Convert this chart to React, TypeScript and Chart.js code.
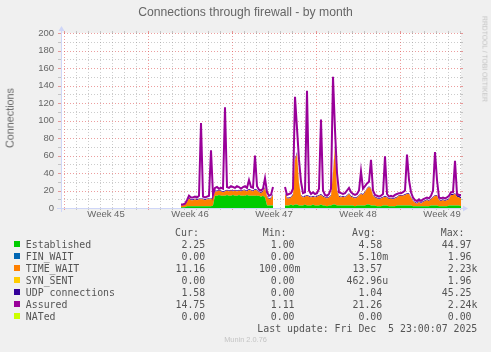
import React, { useEffect, useRef } from "react";
import { Chart, registerables } from "chart.js";

Chart.register(...registerables);

// time in hours since the start of Week 45
const times = [
  234, 238, 242, 246, 250, 254, 258, 262, 266, 270,
  274, 278, 282, 286, 290, 294, 298, 302, 306, 310,
  314, 318, 322, 326, 330, 334, 338, 342, 346, 350,
  354, 358, 362, 366, 370, 374, 378, 382, 386, 390,
  394, 398, 402, 406, 410, 414, 418, 422, 426, 430,
  434, 438, 442, 446, 450, 454, 458, 462, 466, 470,
  474, 478, 482, 486, 490, 494, 498, 502, 506, 510,
  514, 518, 522, 526, 530, 534, 538, 542, 546, 550,
  554, 558, 562, 566, 570, 574, 578, 582, 586, 590,
  594, 598, 602, 606, 610, 614, 618, 622, 626, 630,
  634, 638, 642, 646, 650, 654, 658, 662, 666, 670,
  674, 678, 682, 686, 690, 694, 698, 702, 706, 710,
  714, 718, 722, 726, 730, 734, 738, 742, 746, 750,
  754, 758, 762, 766, 770, 774, 778, 782, 786, 790,
  794,
];

const established = [
  1, 1, 1, 2, 2, 2, 2, 2, 2, 2,
  2, 2, 2, 2, 2, 2, 3, 14, 14, 15,
  14, 14, 14, 15, 14, 14, 15, 14, 14, 15,
  14, 14, 14, 15, 14, 14, 14, 14, 14, 14,
  13, 14, 12, 3, 3, 3, 3, null, null, null,
  null, null, 3, 3, 3, 4, 3, 4, 4, 3,
  3, 3, 4, 3, 3, 3, 4, 3, 3, 3,
  4, 3, 3, 2, 3, 3, 4, 4, 3, 3,
  3, 3, 3, 3, 3, 3, 3, 2, 3, 3,
  3, 3, 3, 4, 4, 3, 3, 3, 2, 2,
  2, 3, 3, 3, 2, 2, 2, 2, 3, 3,
  3, 3, 3, 3, 3, 3, 2, 2, 2, 2,
  2, 2, 2, 2, 2, 3, 3, 3, 3, 2,
  2, 2, 2, 2, 3, 3, 3, 3, 3, 3,
  2,
];

const timeWait = [
  2, 2, 3, 5, 9, 7, 7, 8, 7, 8,
  8, 8, 7, 8, 8, 8, 9, 5, 5, 5,
  5, 4, 5, 5, 5, 6, 4, 6, 5, 5,
  5, 6, 6, 4, 7, 6, 5, 7, 6, 4,
  4, 5, 11, 10, 7, 8, 12, null, null, null,
  null, null, 13, 8, 8, 8, 12, 51, 58, 25,
  11, 9, 9, 11, 10, 9, 9, 9, 10, 11,
  11, 10, 9, 9, 9, 11, 36, 66, 17, 10,
  9, 10, 9, 11, 13, 10, 9, 9, 9, 11,
  13, 12, 15, 18, 20, 19, 11, 9, 9, 8,
  9, 9, 10, 9, 8, 9, 8, 9, 9, 11,
  11, 11, 12, 13, 13, 9, 6, 4, 3, 5,
  3, 5, 6, 7, 6, 7, 9, 11, 11, 7,
  6, 7, 6, 7, 7, 12, 12, 13, 10, 9,
  9,
];

const udp = [
  1, 1, 1, 1, 1, 1, 1, 1, 1, 1,
  1, 1, 1, 1, 1, 1, 1, 1, 1, 1,
  1, 1, 1, 1, 1, 1, 1, 1, 1, 1,
  1, 1, 1, 1, 1, 1, 1, 1, 1, 1,
  1, 1, 1, 1, 1, 1, 1, null, null, null,
  null, null, 1, 1, 1, 1, 1, 2, 2, 1,
  1, 1, 1, 1, 1, 1, 1, 1, 1, 1,
  1, 1, 1, 1, 1, 1, 2, 2, 1, 1,
  1, 1, 1, 1, 1, 1, 1, 1, 1, 1,
  1, 1, 1, 1, 1, 1, 1, 1, 1, 1,
  1, 1, 1, 1, 1, 1, 1, 1, 1, 1,
  1, 1, 1, 1, 1, 1, 1, 1, 1, 1,
  1, 1, 1, 1, 1, 1, 1, 1, 1, 1,
  1, 1, 1, 1, 1, 1, 1, 1, 2, 2,
  1.5,
];

const assured = [
  4, 4, 5, 9, 14, 12, 12, 13, 12, 14,
  97, 13, 12, 13, 14, 66, 15, 23, 24, 22,
  23, 22, 115, 24, 23, 25, 24, 23, 25, 24,
  22, 24, 25, 23, 32, 24, 23, 60, 25, 21,
  20, 22, 34, 18, 14, 15, 24, null, null, null,
  null, null, 24, 15, 16, 17, 22, 127, 91, 55,
  30, 17, 18, 134, 20, 16, 18, 16, 17, 22,
  101, 20, 15, 14, 16, 22, 150, 89, 40, 18,
  17, 16, 17, 20, 23, 18, 16, 15, 16, 20,
  42, 22, 25, 28, 30, 55, 20, 15, 14, 13,
  14, 16, 59, 16, 13, 14, 13, 15, 16, 17,
  17, 18, 20, 61, 32, 18, 12, 9, 8, 10,
  8, 10, 11, 12, 11, 14, 20, 64, 32, 12,
  11, 12, 11, 12, 14, 18, 18, 54, 16, 15,
  15,
];

const weekLabels = ["Week 45", "Week 46", "Week 47", "Week 48", "Week 49"];
const weekCenters = [84, 252, 420, 588, 756];

const seriesNames = ["Established", "FIN_WAIT", "TIME_WAIT", "SYN_SENT", "UDP connections", "Assured", "NATed"];
const seriesColors = ["#00CC00", "#0066B3", "#FF8000", "#FFCC00", "#330099", "#990099", "#CCFF00"];
const curValues = ["2.25", "0.00", "11.16", "0.00", "1.58", "14.75", "0.00"];
const minValues = ["1.00", "0.00", "100.00m", "0.00", "0.00", "1.11", "0.00"];
const avgValues = ["4.58", "5.10m", "13.57", "462.96u", "1.04", "21.26", "0.00"];
const maxValues = ["44.97", "1.96", "2.23k", "1.96", "45.25", "2.24k", "0.00"];

const W = 491;
const H = 352;
const GRID = "rgba(143,143,143,0.45)";
const MGRID = "rgba(222,79,79,0.55)";
const AXIS = "#CFD6F8";
const FONT = "#666666";

const muninPlugin = {
  id: "muninGrid",
  beforeDatasetsDraw(chart: any) {
    const { ctx, chartArea: a } = chart;
    const xs = chart.scales.x;
    const ys = chart.scales.y;
    ctx.save();
    ctx.fillStyle = "#FFFFFF";
    ctx.fillRect(a.left, a.top, a.right - a.left, a.bottom - a.top);
    ctx.lineWidth = 1;
    const seg = (x1: number, y1: number, x2: number, y2: number, color: string, dash: number[]) => {
      ctx.strokeStyle = color;
      ctx.setLineDash(dash);
      ctx.beginPath();
      ctx.moveTo(x1, y1);
      ctx.lineTo(x2, y2);
      ctx.stroke();
    };
    // horizontal lines (minor every 10, major every 20)
    for (let v = 10; v <= ys.max; v += 10) {
      const major = v % 20 === 0;
      const c = major ? MGRID : GRID;
      const py = Math.round(ys.getPixelForValue(v)) + 0.5;
      seg(a.left - 3, py, a.left, py, c, []);
      seg(a.right, py, a.right + 2, py, c, []);
      seg(a.left, py, a.right, py, c, [1, 2]);
    }
    // vertical lines (minor every day, major every week)
    for (let v = Math.ceil(xs.min / 24) * 24; v <= xs.max; v += 24) {
      const major = v % 168 === 0;
      const c = major ? MGRID : GRID;
      const px = Math.round(xs.getPixelForValue(v)) + 0.5;
      seg(px, a.bottom, px, a.bottom + 2, c, []);
      seg(px, a.top - 2, px, a.top, c, []);
      seg(px, a.top, px, a.bottom, c, [1, 2]);
    }
    ctx.restore();
  },
  afterDatasetsDraw(chart: any) {
    const { ctx, chartArea: a } = chart;
    ctx.save();
    ctx.strokeStyle = AXIS;
    ctx.fillStyle = AXIS;
    ctx.lineWidth = 1;
    const x0 = Math.round(a.left) + 0.5;
    const y0 = Math.round(a.bottom) + 0.5;
    ctx.beginPath();
    ctx.moveTo(a.left - 4, y0);
    ctx.lineTo(a.right + 4, y0);
    ctx.moveTo(x0, a.bottom + 4);
    ctx.lineTo(x0, a.top - 4);
    ctx.stroke();
    ctx.beginPath();
    ctx.moveTo(a.right + 2, y0 - 3);
    ctx.lineTo(a.right + 2, y0 + 3);
    ctx.lineTo(a.right + 7, y0);
    ctx.closePath();
    ctx.fill();
    ctx.beginPath();
    ctx.moveTo(x0 - 3, a.top - 2);
    ctx.lineTo(x0 + 3, a.top - 2);
    ctx.lineTo(x0, a.top - 7);
    ctx.closePath();
    ctx.fill();
    ctx.restore();
  },
};

const pts = (arr: (number | null)[]) => times.map((t, i) => ({ x: t, y: arr[i] }));

const mono = "'DejaVu Sans Mono', monospace";
const sans = "'Liberation Sans', Arial, sans-serif";

export default function App() {
  const ref = useRef<HTMLCanvasElement>(null);

  useEffect(() => {
    const canvas = ref.current;
    if (!canvas) return;
    const tickFont = { family: "Liberation Sans", size: 9.5 };
    const chart = new Chart(canvas, {
      type: "line",
      data: {
        datasets: [
          {
            label: "Established",
            data: pts(established),
            backgroundColor: seriesColors[0],
            borderColor: "transparent",
            borderWidth: 0,
            fill: "origin",
            pointRadius: 0,
            tension: 0,
            spanGaps: false,
            stack: "conn",
          },
          {
            label: "TIME_WAIT",
            data: pts(timeWait),
            backgroundColor: seriesColors[2],
            borderColor: "transparent",
            borderWidth: 0,
            fill: "-1",
            pointRadius: 0,
            tension: 0,
            spanGaps: false,
            stack: "conn",
          },
          {
            label: "UDP connections",
            data: pts(udp),
            backgroundColor: seriesColors[4],
            borderColor: "transparent",
            borderWidth: 0,
            fill: "-1",
            pointRadius: 0,
            tension: 0,
            spanGaps: false,
            stack: "conn",
          },
          {
            label: "Assured",
            data: pts(assured),
            borderColor: seriesColors[5],
            backgroundColor: seriesColors[5],
            borderWidth: 2,
            fill: false,
            pointRadius: 0,
            tension: 0,
            spanGaps: false,
            stack: "assured",
            order: -1,
          },
        ],
      } as any,
      options: {
        responsive: false,
        animation: false,
        devicePixelRatio: 1,
        events: [],
        layout: { padding: { left: 0, right: 30, top: 33, bottom: 0 } },
        plugins: {
          legend: { display: false },
          tooltip: { enabled: false },
          title: { display: false },
        },
        scales: {
          x: {
            type: "linear",
            min: -6,
            max: 794,
            grid: { display: false, drawTicks: false },
            border: { display: false },
            ticks: {
              autoSkip: false,
              maxRotation: 0,
              minRotation: 0,
              padding: 1,
              color: FONT,
              font: tickFont,
              callback: (v: any) => {
                const i = weekCenters.indexOf(Number(v));
                return i >= 0 ? weekLabels[i] : "";
              },
            },
            afterBuildTicks: (s: any) => {
              s.ticks = weekCenters.map((v) => ({ value: v }));
            },
            afterFit: (s: any) => {
              s.height = 144;
            },
          },
          y: {
            stacked: true,
            min: 0,
            max: 200,
            grid: { display: false, drawTicks: true, tickLength: 4 },
            border: { display: false },
            ticks: { stepSize: 20, padding: 3, color: FONT, font: tickFont },
            afterFit: (s: any) => {
              s.width = 61;
            },
          },
        },
      } as any,
      plugins: [muninPlugin],
    });
    return () => chart.destroy();
  }, []);

  const rowTop = 238.6;
  const rowH = 12;
  const colRight = [211.2, 300.5, 388.2, 477.5];
  const cols = [curValues, minValues, avgValues, maxValues];
  const headers = ["Cur:", "Min:", "Avg:", "Max:"];
  const headerLeft = [175.1, 262.7, 352, 440.7];
  const legendText: React.CSSProperties = {
    position: "absolute",
    fontFamily: mono,
    fontSize: "9.9px",
    lineHeight: "12px",
    color: "#555",
    whiteSpace: "pre",
  };
  const withUnit = (s: string) => (/[a-z]$/i.test(s) ? s : s + " ");

  return (
    <div
      style={{
        position: "fixed",
        left: 0,
        top: 0,
        width: W,
        height: H,
        background: "#F0F0F0",
        overflow: "hidden",
      }}
    >
      <canvas ref={ref} width={W} height={H} style={{ position: "absolute", left: 0, top: 0, width: W, height: H }} />
      <div
        style={{
          position: "absolute",
          left: 0,
          width: W,
          top: 3.5,
          textAlign: "center",
          fontFamily: sans,
          fontSize: "12.2px",
          lineHeight: "16px",
          color: FONT,
          whiteSpace: "nowrap",
        }}
      >
        Connections through firewall - by month
      </div>
      <div
        style={{
          position: "absolute",
          left: 9.5,
          top: 118,
          transform: "translate(-50%, -50%) rotate(-90deg)",
          fontFamily: sans,
          fontSize: "10.8px",
          lineHeight: "10.8px",
          color: FONT,
          whiteSpace: "nowrap",
        }}
      >
        Connections
      </div>
      <div
        style={{
          position: "absolute",
          left: 484,
          top: 58.5,
          transform: "translate(-50%, -50%) rotate(90deg)",
          fontFamily: sans,
          fontSize: "6.8px",
          lineHeight: "6.8px",
          color: "rgba(102,102,102,0.35)",
          whiteSpace: "nowrap",
        }}
      >
        RRDTOOL / TOBI OETIKER
      </div>
      {headers.map((h, i) => (
        <div key={h} style={{ ...legendText, left: headerLeft[i], top: rowTop - rowH }}>
          {h}
        </div>
      ))}
      {seriesNames.map((name, r) => (
        <React.Fragment key={name}>
          <div
            style={{
              position: "absolute",
              left: 14,
              top: rowTop + r * rowH + 2.7,
              width: 6,
              height: 6,
              background: seriesColors[r],
            }}
          />
          <div style={{ ...legendText, left: 25.8, top: rowTop + r * rowH }}>{name}</div>
          {cols.map((col, c) => (
            <div key={c} style={{ ...legendText, right: W - colRight[c], top: rowTop + r * rowH }}>
              {withUnit(col[r])}
            </div>
          ))}
        </React.Fragment>
      ))}
      <div style={{ ...legendText, right: W - 477.3, top: rowTop + 7 * rowH }}>
        {"Last update: Fri Dec  5 23:00:07 2025"}
      </div>
      <div
        style={{
          position: "absolute",
          left: 0,
          width: 491,
          top: 336,
          textAlign: "center",
          fontFamily: sans,
          fontSize: "7.4px",
          lineHeight: "8px",
          color: "#C4C4C4",
          whiteSpace: "nowrap",
        }}
      >
        Munin 2.0.76
      </div>
    </div>
  );
}
